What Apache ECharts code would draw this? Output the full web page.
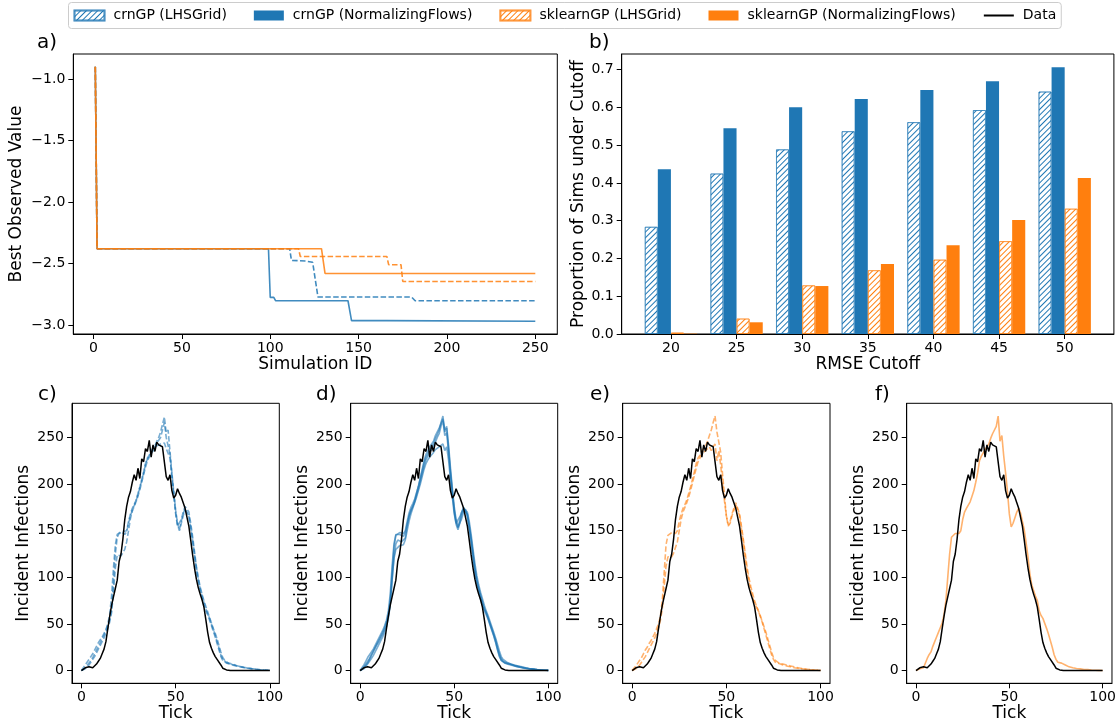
<!DOCTYPE html>
<html>
<head>
<meta charset="utf-8">
<script src="https://cdn.jsdelivr.net/npm/echarts@6/dist/echarts.min.js"></script>
<style>
  html, body { margin: 0; background: #fff; }
  #chart { width: 1119px; height: 725px; }
</style>
</head>
<body>
<div id="chart"></div>
<script>
// a) best observed value per simulation id: [id, value] at the points where it changes
const crnLhsBest = [[1, -0.9], [2, -2.38], [111, -2.38], [112, -2.475], [120, -2.48], [124, -2.49], [127, -2.773], [180, -2.773], [182, -2.803], [250, -2.803]]
const crnNfBest = [[1, -0.9], [2, -2.38], [99, -2.38], [100, -2.776], [102, -2.776], [103, -2.803], [144, -2.803], [146, -2.965], [166, -2.965], [167, -2.97], [250, -2.97]]
const skLhsBest = [[1, -0.9], [2, -2.38], [116, -2.38], [117, -2.443], [166, -2.443], [167, -2.51], [174, -2.51], [175, -2.646], [250, -2.646]]
const skNfBest = [[1, -0.9], [2, -2.38], [129, -2.38], [131, -2.581], [250, -2.581]]

// b) proportion of sims under the RMSE cutoff
const cutoffs = [20, 25, 30, 35, 40, 45, 50]
const crnLhsProp = [0.284, 0.425, 0.489, 0.537, 0.561, 0.593, 0.642]
const crnNfProp = [0.436, 0.545, 0.600, 0.622, 0.646, 0.669, 0.706]
const skLhsProp = [0.004, 0.041, 0.129, 0.169, 0.197, 0.246, 0.332]
const skNfProp = [0.001, 0.031, 0.127, 0.185, 0.235, 0.302, 0.413]

// c-f) incident infections, one value per tick 0..100
const dataCurve = [
  0, 2, 3, 4, 4, 5, 3, 4, 7, 10,
  13, 18, 23, 31, 45, 58, 70, 79, 88, 97,
  117, 125, 141, 162, 176, 186, 192, 202, 210, 204,
  217, 206, 227, 224, 238, 235, 247, 229, 242, 235,
  245, 242, 241, 240, 238, 208, 204, 210, 193, 185,
  188, 195, 190, 186, 180, 174, 172, 155, 140, 124,
  110, 98, 89, 82, 76, 68, 55, 41, 30, 24,
  19, 15, 12, 10, 6, 2.5, 1.5, 0.7, 0.3, 0,
  0, 0, 0, 0, 0, 0, 0, 0, 0, 0,
  0, 0, 0, 0, 0, 0, 0, 0, 0, 0, 0
]
const crnLhsRun1 = [
  0, 1, 3, 5, 8, 11, 14, 18, 22, 26,
  30, 34, 38, 43, 49, 55, 65, 95, 125, 143,
  147, 148, 149, 148, 150, 160, 168, 174, 178, 183,
  190, 197, 205, 213, 222, 228, 231, 236, 235, 241,
  246, 250, 256, 264, 272, 255, 258, 235, 212, 192,
  172, 158, 151, 160, 168, 174, 176, 165, 152, 138,
  122, 106, 95, 86, 78, 70, 64, 60, 54, 48,
  42, 36, 29, 22, 15, 11, 9, 8, 7.5, 7,
  6, 5.5, 5, 4.5, 4, 3.5, 3, 3, 2.5, 2.2,
  2, 1.8, 1.5, 1.2, 1, 0.8, 0.6, 0.5, 0.4, 0.3, 0.2
]
const crnLhsRun2 = [
  0, 1, 2, 4, 6, 9, 12, 15, 19, 23,
  27, 31, 35, 40, 45, 52, 62, 85, 110, 124,
  126, 123, 122, 130, 138, 150, 163, 171, 176, 181,
  187, 194, 202, 210, 218, 225, 229, 233, 234, 238,
  241, 242, 243, 244, 244, 238, 240, 228, 208, 190,
  170, 156, 150, 158, 166, 172, 174, 166, 154, 140,
  125, 110, 98, 88, 80, 73, 66, 61, 56, 50,
  44, 38, 31, 24, 17, 12, 10, 8.5, 8, 7,
  6.5, 6, 5.5, 5, 4.5, 4, 3.5, 3, 2.8, 2.5,
  2.2, 2, 1.7, 1.4, 1.2, 1, 0.8, 0.6, 0.5, 0.4, 0.3
]
const crnLhsRun3 = [
  0, 3, 6, 9, 12, 15, 18, 22, 26, 30,
  33, 36, 40, 44, 50, 60, 80, 110, 135, 146,
  148, 149, 147, 146, 149, 158, 166, 172, 177, 182,
  189, 196, 204, 212, 221, 227, 230, 234, 236, 240,
  244, 247, 250, 258, 266, 250, 252, 232, 210, 188,
  168, 155, 153, 162, 170, 176, 178, 170, 158, 144,
  128, 112, 100, 90, 82, 75, 69, 63, 57, 51,
  45, 40, 34, 27, 20, 14, 11, 9, 8, 7.5,
  7, 6, 5.5, 5, 4.5, 4, 3.5, 3, 2.8, 2.5,
  2.2, 2, 1.8, 1.5, 1.2, 1, 0.8, 0.6, 0.5, 0.4, 0.3
]
const crnNfRun1 = [
  0, 2, 4, 7, 10, 13, 17, 21, 25, 29,
  33, 37, 41, 46, 52, 60, 75, 105, 132, 145,
  147, 148, 149, 147, 150, 160, 169, 175, 179, 184,
  191, 198, 206, 214, 223, 229, 233, 237, 238, 243,
  249, 253, 258, 266, 273, 256, 260, 238, 214, 193,
  173, 160, 153, 162, 170, 175, 177, 167, 154, 140,
  124, 108, 96, 87, 79, 72, 66, 62, 56, 50,
  44, 38, 31, 23, 16, 11, 9, 8, 7.5, 7,
  6.5, 6, 5, 4.5, 4, 3.5, 3, 2.8, 2.5, 2.2,
  2, 1.8, 1.5, 1.2, 1, 0.8, 0.6, 0.5, 0.4, 0.3, 0.2
]
const crnNfRun2 = [
  0, 1, 2, 4, 7, 10, 13, 16, 20, 24,
  28, 32, 36, 41, 47, 56, 70, 96, 122, 136,
  140, 141, 138, 136, 142, 155, 166, 172, 176, 181,
  188, 195, 203, 211, 219, 226, 230, 234, 236, 240,
  245, 250, 254, 262, 268, 252, 255, 234, 211, 191,
  171, 157, 151, 158, 167, 173, 175, 168, 156, 142,
  126, 110, 98, 89, 81, 74, 67, 62, 57, 51,
  45, 39, 33, 25, 18, 13, 10, 8.5, 8, 7.5,
  7, 6, 5.5, 5, 4.5, 4, 3.5, 3, 2.6, 2.3,
  2, 1.8, 1.5, 1.2, 1, 0.8, 0.6, 0.5, 0.4, 0.3, 0.2
]
const crnNfRun3 = [
  0, 2, 3, 5, 8, 12, 16, 20, 24, 28,
  31, 35, 39, 44, 50, 58, 72, 98, 120, 130,
  132, 134, 133, 135, 140, 150, 160, 168, 174, 180,
  186, 193, 200, 208, 216, 222, 226, 229, 231, 234,
  237, 239, 240, 242, 243, 236, 240, 226, 205, 186,
  168, 158, 160, 165, 170, 174, 175, 170, 160, 146,
  130, 115, 102, 92, 84, 77, 70, 64, 59, 53,
  47, 41, 35, 28, 21, 15, 12, 10, 9, 8,
  7, 6.5, 6, 5.5, 5, 4.5, 4, 3.5, 3, 2.6,
  2.3, 2, 1.8, 1.5, 1.2, 1, 0.8, 0.6, 0.5, 0.4, 0.3
]
const crnNfRun4 = [
  0, 3, 6, 10, 14, 17, 20, 23, 27, 31,
  35, 39, 43, 48, 54, 64, 82, 112, 136, 146,
  148, 146, 145, 144, 148, 157, 165, 171, 176, 182,
  190, 198, 207, 216, 225, 232, 236, 240, 241, 246,
  252, 256, 260, 265, 270, 258, 262, 242, 218, 196,
  176, 162, 154, 156, 163, 170, 173, 164, 151, 137,
  120, 104, 93, 85, 77, 70, 64, 60, 55, 49,
  43, 37, 30, 22, 15, 11, 9, 8, 7, 6.5,
  6, 5.5, 5, 4.5, 4, 3.5, 3, 2.6, 2.3, 2,
  1.8, 1.6, 1.4, 1.2, 1, 0.8, 0.6, 0.5, 0.4, 0.3, 0.2
]
const skLhsRun1 = [
  0, 2, 5, 8, 11, 14, 18, 22, 25, 29,
  32, 36, 40, 45, 50, 58, 75, 105, 135, 145,
  147, 148, 148, 147, 150, 160, 168, 174, 178, 183,
  190, 197, 205, 213, 222, 228, 231, 236, 235, 241,
  246, 252, 258, 266, 273, 256, 258, 234, 210, 188,
  166, 155, 158, 166, 172, 178, 176, 166, 152, 138,
  122, 106, 95, 86, 78, 72, 68, 64, 58, 52,
  45, 38, 31, 24, 17, 12, 9, 8, 7.5, 7,
  6, 5.5, 5, 4.5, 4, 3.5, 3, 2.8, 2.5, 2.2,
  2, 1.8, 1.5, 1.2, 1, 0.8, 0.6, 0.5, 0.4, 0.3, 0.2
]
const skLhsRun2 = [
  0, 1, 2, 4, 6, 9, 12, 15, 19, 23,
  27, 31, 35, 40, 46, 54, 66, 90, 112, 122,
  124, 122, 126, 132, 138, 150, 162, 170, 175, 180,
  186, 193, 201, 209, 217, 224, 228, 232, 234, 236,
  238, 240, 236, 240, 243, 225, 236, 220, 200, 182,
  166, 156, 160, 168, 174, 180, 178, 168, 155, 141,
  126, 111, 99, 90, 82, 75, 69, 64, 59, 53,
  47, 41, 34, 27, 20, 14, 11, 9, 8, 7.5,
  7, 6.5, 6, 5.5, 5, 4.5, 4, 3.5, 3, 2.6,
  2.3, 2, 1.7, 1.4, 1.2, 1, 0.8, 0.6, 0.5, 0.4, 0.3
]
const skNfRun1 = [
  0, 1, 2, 2.5, 3, 5, 13, 17, 20, 26,
  31, 36, 41, 46, 51, 60, 75, 100, 125, 143,
  145, 147, 149, 147, 150, 162, 170, 174, 176, 181,
  187, 193, 202, 212, 225, 230, 232, 237, 236, 243,
  249, 254, 255, 262, 273, 246, 252, 230, 212, 192,
  168, 154, 158, 164, 170, 174, 169, 160, 151, 137,
  122, 104, 92, 86, 80, 75, 64, 59, 56, 54,
  45, 39, 32, 25, 17, 12, 9, 8, 8, 7,
  6, 5, 4, 3.5, 3, 2.5, 2.2, 2, 1.8, 1.5,
  1.2, 1, 1, 0.8, 0.6, 0.5, 0.4, 0.3, 0.2, 0.1, 0
]

const BLUE = '#1f77b4'
const ORANGE = '#ff7f0e'
const FONT = 'DejaVu Sans'
const DASH = [5.5, 2.4]

const minus = v => String(v).replace('-', '\u2212')

function grid(left, top, width, height) {
  return { left, top, width, height, show: true, borderColor: '#000', borderWidth: 1, containLabel: false }
}

function axis(opt) {
  return {
    type: 'value',
    gridIndex: opt.grid,
    min: opt.min,
    max: opt.max,
    name: opt.name,
    nameLocation: 'middle',
    nameGap: opt.nameGap,
    nameTextStyle: { fontFamily: FONT, fontSize: 17, color: '#000' },
    // the axis line sits on the grid border; it has to be on for the ticks to show
    axisLine: { show: true, onZero: false, lineStyle: { color: '#000', width: 1 } },
    splitLine: { show: false },
    axisTick: { show: true, length: 5, customValues: opt.ticks, lineStyle: { color: '#000', width: 1 } },
    axisLabel: {
      customValues: opt.ticks,
      margin: opt.margin || 8,
      fontFamily: FONT,
      fontSize: 14,
      color: '#000',
      formatter: opt.fmt || (v => minus(v))
    }
  }
}

const hatch = color => ({
  symbol: 'rect',
  symbolSize: 1,
  color: color,
  dashArrayX: [1, 0],
  dashArrayY: [1, 3],
  rotation: -Math.PI / 4
})

const fade = color => color === BLUE ? 'rgba(31,119,180,0.55)' : 'rgba(255,127,14,0.55)'

function barSeries(name, values, color, hatched) {
  return {
    name,
    type: 'bar',
    xAxisIndex: 1,
    yAxisIndex: 1,
    barWidth: 13.1,
    barGap: '0%',
    data: cutoffs.map((c, i) => [c, values[i]]),
    itemStyle: hatched
      ? { color: '#fff', borderColor: fade(color), borderWidth: 1, decal: hatch(color) }
      : { color: color }
  }
}

function lineSeries(name, pairs, gi, color, dashed, width, opacity) {
  return {
    name,
    type: 'line',
    xAxisIndex: gi,
    yAxisIndex: gi,
    data: pairs,
    symbol: 'none',
    showSymbol: false,
    silent: true,
    lineStyle: { color, width, type: dashed ? DASH : 'solid', opacity }
  }
}

const perTick = arr => arr.map((v, i) => [i, v])

const L1 = 'crnGP (LHSGrid)'
const L2 = 'crnGP (NormalizingFlows)'
const L3 = 'sklearnGP (LHSGrid)'
const L4 = 'sklearnGP (NormalizingFlows)'

const tickAxis = gi => axis({ grid: gi, min: -5, max: 105, ticks: [0, 50, 100], name: 'Tick', nameGap: 22, margin: 7 })
const incAxis = gi => axis({ grid: gi, min: -13.65, max: 286.65, ticks: [0, 50, 100, 150, 200, 250], name: 'Incident Infections', nameGap: 40 })

const series = [
  barSeries(L1, crnLhsProp, BLUE, true),
  barSeries(L2, crnNfProp, BLUE, false),
  barSeries(L3, skLhsProp, ORANGE, true),
  barSeries(L4, skNfProp, ORANGE, false),

  lineSeries(L1, crnLhsBest, 0, BLUE, true, 1.6, 0.85),
  lineSeries(L2, crnNfBest, 0, BLUE, false, 1.6, 0.85),
  lineSeries(L3, skLhsBest, 0, ORANGE, true, 1.6, 0.85),
  lineSeries(L4, skNfBest, 0, ORANGE, false, 1.6, 0.85),

  lineSeries(L1, perTick(crnLhsRun1), 2, BLUE, true, 1.6, 0.6),
  lineSeries(L1, perTick(crnLhsRun2), 2, BLUE, true, 1.6, 0.6),
  lineSeries(L1, perTick(crnLhsRun3), 2, BLUE, true, 1.6, 0.6),
  lineSeries('Data', perTick(dataCurve), 2, '#000', false, 1.5, 1),

  lineSeries(L2, perTick(crnNfRun1), 3, BLUE, false, 1.6, 0.6),
  lineSeries(L2, perTick(crnNfRun2), 3, BLUE, false, 1.6, 0.6),
  lineSeries(L2, perTick(crnNfRun3), 3, BLUE, false, 1.6, 0.6),
  lineSeries(L2, perTick(crnNfRun4), 3, BLUE, false, 1.6, 0.6),
  lineSeries('Data', perTick(dataCurve), 3, '#000', false, 1.5, 1),

  lineSeries(L3, perTick(skLhsRun1), 4, ORANGE, true, 1.6, 0.6),
  lineSeries(L3, perTick(skLhsRun2), 4, ORANGE, true, 1.6, 0.6),
  lineSeries('Data', perTick(dataCurve), 4, '#000', false, 1.5, 1),

  lineSeries(L4, perTick(skNfRun1), 5, ORANGE, false, 1.6, 0.6),
  lineSeries('Data', perTick(dataCurve), 5, '#000', false, 1.5, 1)
]

const panelTitle = (text, left, top) => ({
  text, left, top, padding: 0,
  textStyle: { fontFamily: FONT, fontSize: 20, fontWeight: 'normal', color: '#000' }
})

const chart = echarts.init(document.getElementById('chart'), null, { renderer: 'canvas' })
chart.setOption({
  animation: false,
  backgroundColor: '#fff',
  title: [
    panelTitle('a)', 37, 33),
    panelTitle('b)', 589, 33),
    panelTitle('c)', 38, 385),
    panelTitle('d)', 316, 385),
    panelTitle('e)', 590, 385),
    panelTitle('f)', 875, 385)
  ],
  legend: {
    left: 68.5,
    top: 2.5,
    padding: [6, 5, 6, 5],
    itemWidth: 30,
    itemHeight: 10,
    itemGap: 27,
    borderColor: '#ccc',
    borderWidth: 1,
    borderRadius: 3,
    selectedMode: false,
    textStyle: { fontFamily: FONT, fontSize: 14, color: '#000', padding: [0, 0, 0, 4] },
    data: [
      { name: L1, icon: 'rect' },
      { name: L2, icon: 'rect' },
      { name: L3, icon: 'rect' },
      { name: L4, icon: 'rect' },
      { name: 'Data', itemStyle: { opacity: 0 } }
    ]
  },
  grid: [
    grid(73.3, 54, 484, 280),
    grid(621.7, 54, 492.2, 280),
    grid(72, 403.3, 207.3, 280),
    grid(350.7, 403.3, 207, 280),
    grid(622.7, 403.3, 207.3, 280),
    grid(906.7, 403.3, 207.6, 280)
  ],
  xAxis: [
    axis({ grid: 0, min: -11.45, max: 262.45, ticks: [0, 50, 100, 150, 200, 250], name: 'Simulation ID', nameGap: 22, margin: 7 }),
    axis({ grid: 1, min: 16.25, max: 53.75, ticks: cutoffs, name: 'RMSE Cutoff', nameGap: 22, margin: 7 }),
    tickAxis(2), tickAxis(3), tickAxis(4), tickAxis(5)
  ],
  yAxis: [
    axis({ grid: 0, min: -3.0735, max: -0.7965, ticks: [-3, -2.5, -2, -1.5, -1], name: 'Best Observed Value', nameGap: 48, fmt: v => minus(v.toFixed(1)) }),
    axis({ grid: 1, min: 0, max: 0.7413, ticks: [0, 0.1, 0.2, 0.3, 0.4, 0.5, 0.6, 0.7], name: 'Proportion of Sims under Cutoff', nameGap: 34, fmt: v => v.toFixed(1) }),
    incAxis(2), incAxis(3), incAxis(4), incAxis(5)
  ],
  series
})
</script>
</body>
</html>
